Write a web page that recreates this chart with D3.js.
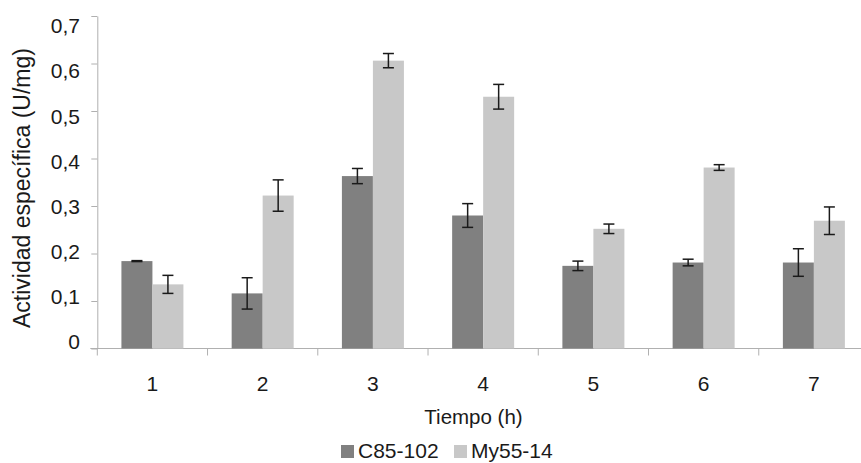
<!DOCTYPE html>
<html>
<head>
<meta charset="utf-8">
<script src="https://cdn.jsdelivr.net/npm/d3@7"></script>
<style>
  html, body { margin: 0; padding: 0; background: #fff; }
  svg { display: block; font-family: "Liberation Sans", Arial, sans-serif; }
</style>
</head>
<body>
<div id="grafica"></div>
<script>
'use strict'

//---------------------------Datos--------------------------------//
var tiempos = ['1', '2', '3', '4', '5', '6', '7'];
var series = ['C85-102', 'My55-14'];
var valoresC85 = [0.184, 0.116, 0.363, 0.280, 0.174, 0.181, 0.181];
var erroresC85 = [0.001, 0.033, 0.016, 0.025, 0.010, 0.007, 0.029];
var valoresMy55 = [0.135, 0.322, 0.606, 0.530, 0.252, 0.381, 0.269];
var erroresMy55 = [0.019, 0.033, 0.015, 0.026, 0.010, 0.006, 0.029];
var ticksY = [0, 0.1, 0.2, 0.3, 0.4, 0.5, 0.6, 0.7];
var colores = ['#808080', '#c8c8c8'];

var datos = tiempos.map(function (t, i) {
  return {
    tiempo: t,
    barras: [
      { serie: series[0], valor: valoresC85[i], error: erroresC85[i] },
      { serie: series[1], valor: valoresMy55[i], error: erroresMy55[i] }
    ]
  };
});

//---------------------------Medidas--------------------------------//
var width = 861, height = 463;
var x0Izq = 97.3, x0Der = 869;
var yCero = 348.5, yTope = 16;

var svg = d3.select('#grafica').append('svg')
  .attr('width', width)
  .attr('height', height);

// Escalas
var x = d3.scaleBand().domain(tiempos).range([x0Izq, x0Der]).padding(0);
var xSerie = d3.scaleBand().domain(series).range([0, x.bandwidth()])
  .paddingInner(0).paddingOuter(0.778);
var y = d3.scaleLinear().domain([0, 0.7]).range([yCero, yTope]);
// las etiquetas del eje Y no caen justo sobre las marcas en el original
var yEtiqueta = d3.scaleLinear().domain([0, 0.7]).range([341.5, 25.8]);

var colorSerie = d3.scaleOrdinal().domain(series).range(colores);

//---------------------------Ejes--------------------------------//
var colorEje = '#b0b0b0';

// Eje Y (solo linea y marcas)
var ejeY = svg.append('g')
  .attr('transform', 'translate(' + x0Izq + ',0)')
  .call(d3.axisLeft(y).tickValues(ticksY).tickSize(6).tickSizeOuter(0).tickFormat(''));
ejeY.select('.domain').attr('stroke', colorEje);
ejeY.selectAll('.tick line').attr('stroke', colorEje);

svg.append('g').selectAll('text')
  .data(ticksY)
  .enter().append('text')
  .attr('x', 80)
  .attr('y', function (d) { return yEtiqueta(d) + 7.5; })
  .attr('text-anchor', 'end')
  .attr('font-size', 21)
  .attr('fill', '#1a1a1a')
  .text(function (d) { return d === 0 ? '0' : d3.format('.1f')(d).replace('.', ','); });

// Eje X
svg.append('line')
  .attr('x1', x0Izq - 7).attr('x2', x0Der)
  .attr('y1', yCero).attr('y2', yCero)
  .attr('stroke', colorEje);

var bordes = tiempos.map(function (t) { return x(t); }).concat([x0Der]);
svg.append('g').selectAll('line')
  .data(bordes)
  .enter().append('line')
  .attr('x1', function (d) { return d; })
  .attr('x2', function (d) { return d; })
  .attr('y1', yCero)
  .attr('y2', yCero + 7)
  .attr('stroke', colorEje);

svg.append('g').selectAll('text')
  .data(tiempos)
  .enter().append('text')
  .attr('x', function (d) { return x(d) + x.bandwidth() / 2; })
  .attr('y', 391)
  .attr('text-anchor', 'middle')
  .attr('font-size', 21)
  .attr('fill', '#1a1a1a')
  .text(function (d) { return d; });

//---------------------------Barras--------------------------------//
var grupos = svg.append('g').selectAll('g')
  .data(datos)
  .enter().append('g')
  .attr('transform', function (d) { return 'translate(' + x(d.tiempo) + ',0)'; });

grupos.selectAll('rect')
  .data(function (d) { return d.barras; })
  .enter().append('rect')
  .attr('x', function (d) { return xSerie(d.serie); })
  .attr('y', function (d) { return y(d.valor); })
  .attr('width', xSerie.bandwidth())
  .attr('height', function (d) { return yCero - y(d.valor); })
  .attr('fill', function (d) { return colorSerie(d.serie); });

// Barras de error
var semi = 5.5;
var errores = grupos.selectAll('g.error')
  .data(function (d) { return d.barras; })
  .enter().append('g')
  .attr('class', 'error')
  .attr('stroke', '#1a1a1a')
  .attr('stroke-width', 1.5);

errores.append('line')
  .attr('x1', function (d) { return xSerie(d.serie) + xSerie.bandwidth() / 2; })
  .attr('x2', function (d) { return xSerie(d.serie) + xSerie.bandwidth() / 2; })
  .attr('y1', function (d) { return y(d.valor + d.error); })
  .attr('y2', function (d) { return y(d.valor - d.error); });

errores.append('line')
  .attr('x1', function (d) { return xSerie(d.serie) + xSerie.bandwidth() / 2 - semi; })
  .attr('x2', function (d) { return xSerie(d.serie) + xSerie.bandwidth() / 2 + semi; })
  .attr('y1', function (d) { return y(d.valor + d.error); })
  .attr('y2', function (d) { return y(d.valor + d.error); });

errores.append('line')
  .attr('x1', function (d) { return xSerie(d.serie) + xSerie.bandwidth() / 2 - semi; })
  .attr('x2', function (d) { return xSerie(d.serie) + xSerie.bandwidth() / 2 + semi; })
  .attr('y1', function (d) { return y(d.valor - d.error); })
  .attr('y2', function (d) { return y(d.valor - d.error); });

//---------------------------Titulos--------------------------------//
svg.append('text')
  .attr('x', 473.5)
  .attr('y', 424)
  .attr('text-anchor', 'middle')
  .attr('font-size', 20.5)
  .attr('fill', '#1a1a1a')
  .text('Tiempo (h)');

svg.append('text')
  .attr('transform', 'translate(30,188) rotate(-90)')
  .attr('text-anchor', 'middle')
  .attr('font-size', 23)
  .attr('fill', '#1a1a1a')
  .text('Actividad específica (U/mg)');

//---------------------------Leyenda--------------------------------//
var posLeyenda = [341, 454];
var leyenda = svg.append('g').selectAll('g')
  .data(series)
  .enter().append('g')
  .attr('transform', function (d, i) { return 'translate(' + posLeyenda[i] + ',0)'; });

leyenda.append('rect')
  .attr('x', 0)
  .attr('y', 445)
  .attr('width', 13)
  .attr('height', 13)
  .attr('fill', function (d) { return colorSerie(d); });

leyenda.append('text')
  .attr('x', 17)
  .attr('y', 458)
  .attr('font-size', 21)
  .attr('fill', '#1a1a1a')
  .text(function (d) { return d; });
</script>
</body>
</html>
